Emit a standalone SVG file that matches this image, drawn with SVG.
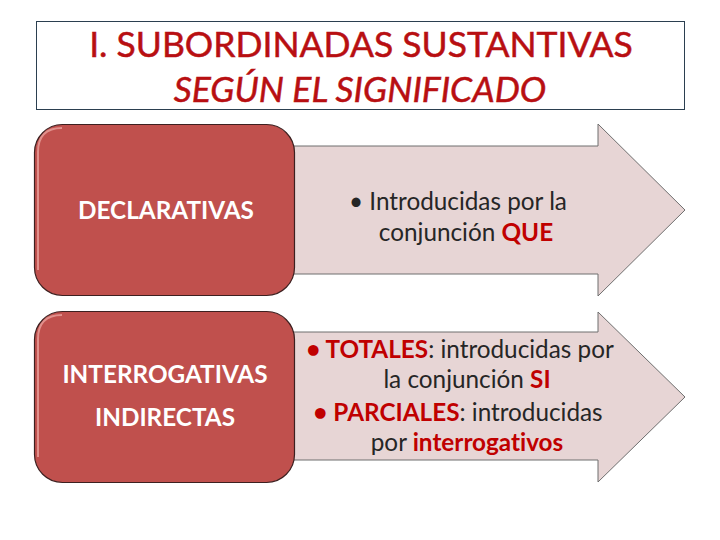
<svg xmlns="http://www.w3.org/2000/svg" width="720" height="540" viewBox="0 0 720 540">
<defs>
<style>
text{font-variant-ligatures:none}
.title{font-family:"Lato","Liberation Sans",sans-serif;font-size:35.5px;fill:#b80f12;text-anchor:middle;stroke:#b80f12;stroke-width:0.5}
.box{fill:#c0504d;stroke:#3d2020;stroke-width:1.2}
.hl{fill:none;stroke:#e8a09c;stroke-width:2;opacity:0.8}
.arrow{fill:#e7d5d5;stroke:#6f6f6f;stroke-width:1}
.lbl{font-family:"Lato","Liberation Sans",sans-serif;font-weight:bold;font-size:24.3px;fill:#ffffff;text-anchor:middle}
.txt{font-family:"Lato","Liberation Sans",sans-serif;font-size:24.3px;fill:#262626;text-anchor:middle}
.red{fill:#c00000;font-weight:bold}
</style>
</defs>
<rect width="720" height="540" fill="#ffffff"/>
<g id="title">
<rect x="36.5" y="21.5" width="648" height="88" fill="#ffffff" stroke="#2b3f50" stroke-width="1"/>
<text class="title" x="361" y="57">I. SUBORDINADAS SUSTANTIVAS</text>
<text class="title" x="360" y="102" font-style="italic">SEGÚN EL SIGNIFICADO</text>
</g>
<g id="connectors">
<path class="arrow" d="M285,146 H598 V124 L685,210 L598,296 V274 H285 Z"/>
<path class="arrow" d="M285,332 H598 V312 L685,397 L598,482 V460 H285 Z"/>
</g>
<g id="node-declarativas">
<rect class="box" x="34.5" y="124.5" width="260" height="171" rx="28"/>
<path class="hl" d="M38,270 V152 Q38,128 62,128"/>
<text class="lbl" x="166" y="219">DECLARATIVAS</text>
</g>
<g id="text-declarativas">
<text class="txt" x="458" y="210">• Introducidas por la</text>
<text class="txt" x="466" y="241">conjunción <tspan class="red">QUE</tspan></text>
</g>
<g id="node-interrogativas">
<rect class="box" x="34.5" y="311.5" width="260" height="171" rx="28"/>
<path class="hl" d="M38,457 V339 Q38,315 62,315"/>
<text class="lbl" x="165" y="383">INTERROGATIVAS</text>
<text class="lbl" x="165" y="426">INDIRECTAS</text>
</g>
<g id="text-interrogativas">
<text class="txt" x="460" y="358"><tspan class="red">• TOTALES</tspan>: introducidas por</text>
<text class="txt" x="467" y="388">la conjunción <tspan class="red">SI</tspan></text>
<text class="txt" x="458" y="421"><tspan class="red">• PARCIALES</tspan>: introducidas</text>
<text class="txt" x="467" y="451">por <tspan class="red">interrogativos</tspan></text>
</g>
</svg>
